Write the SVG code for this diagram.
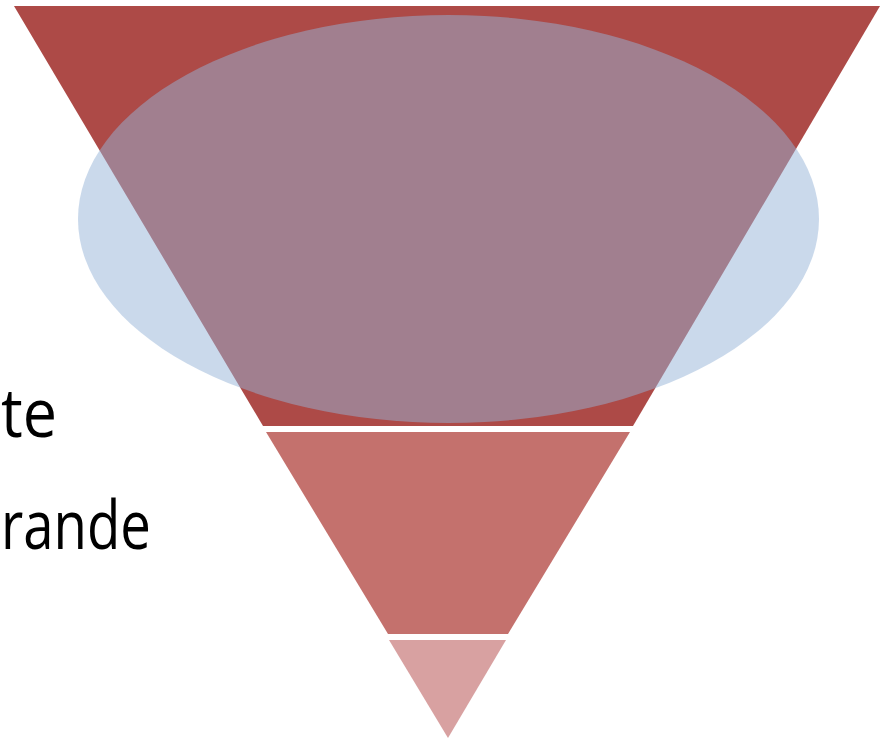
<svg xmlns="http://www.w3.org/2000/svg" width="888" height="739" viewBox="0 0 888 739">
<style>
.lbl{font-family:"Open Sans","Liberation Sans",sans-serif;font-size:67px;fill:#000}
</style>
<rect width="888" height="739" fill="#fff"/>
<g id="band-top"><polygon points="14,6 880,6 633,426 263,426" fill="#ad4a47"/></g>
<g id="band-middle"><polygon points="266,432 630,432 508,634 388,634" fill="#c4716d"/></g>
<g id="band-bottom"><polygon points="389,640 506,640 448,738" fill="#d8a1a1"/></g>
<g id="ellipse"><ellipse cx="448.5" cy="219" rx="370.5" ry="204" fill="#95b3d7" fill-opacity="0.5"/></g>
<g id="labels">
<text class="lbl" x="1" y="437" textLength="56" lengthAdjust="spacingAndGlyphs">te</text>
<text class="lbl" x="1" y="549" textLength="150" lengthAdjust="spacingAndGlyphs">rande</text>
</g>
<g id="connectors"></g>
</svg>
